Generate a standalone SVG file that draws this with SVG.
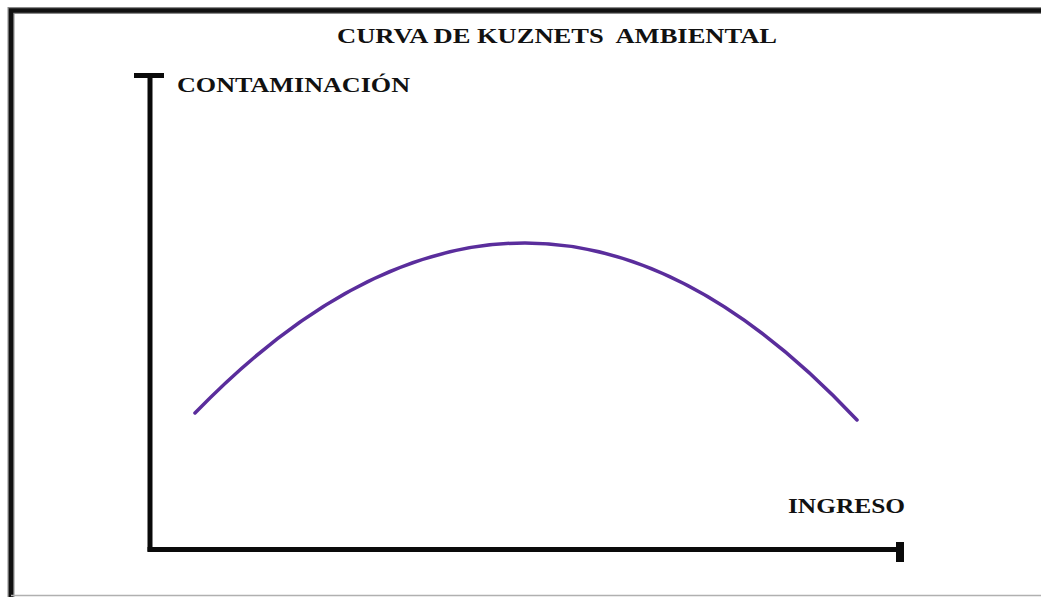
<svg xmlns="http://www.w3.org/2000/svg" width="1041" height="597" viewBox="0 0 1041 597">
<style>
.lbl{font-family:"Liberation Serif","Times New Roman",serif;font-weight:bold;fill:#111;white-space:pre}
.ax{stroke:#0a0a0a;fill:none}
</style>
<rect x="0" y="0" width="1041" height="597" fill="#ffffff"/>
<g id="frame">
<path d="M11 597 V10.5 H1041" fill="none" stroke="#8a8a8a" stroke-width="7"/>
<path d="M11 597 V10.5 H1041" fill="none" stroke="#111" stroke-width="4.5"/>
<line x1="11" y1="595.5" x2="1041" y2="595.5" stroke="#b0b0b0" stroke-width="1.5"/>
</g>
<g id="title">
<text class="lbl" x="337" y="43" font-size="21" textLength="440" lengthAdjust="spacingAndGlyphs">CURVA DE KUZNETS  AMBIENTAL</text>
</g>
<g id="axis-y">
<line class="ax" x1="150" y1="73" x2="150" y2="551.5" stroke-width="5"/>
<line class="ax" x1="134" y1="75.5" x2="164" y2="75.5" stroke-width="5"/>
<text class="lbl" x="177" y="92" font-size="20" textLength="233" lengthAdjust="spacingAndGlyphs">CONTAMINACIÓN</text>
</g>
<g id="axis-x">
<line class="ax" x1="147.5" y1="549.5" x2="902" y2="549.5" stroke-width="5"/>
<rect x="896" y="542" width="8" height="20" fill="#0a0a0a"/>
<text class="lbl" x="788" y="513" font-size="20" textLength="117" lengthAdjust="spacingAndGlyphs">INGRESO</text>
</g>
<g id="connectors">
<path id="curve" d="M195 413 Q360 243 525 243 Q691 243 857 420" fill="none" stroke="#5a2d9c" stroke-width="3.5" stroke-linecap="round"/>
</g>
</svg>
